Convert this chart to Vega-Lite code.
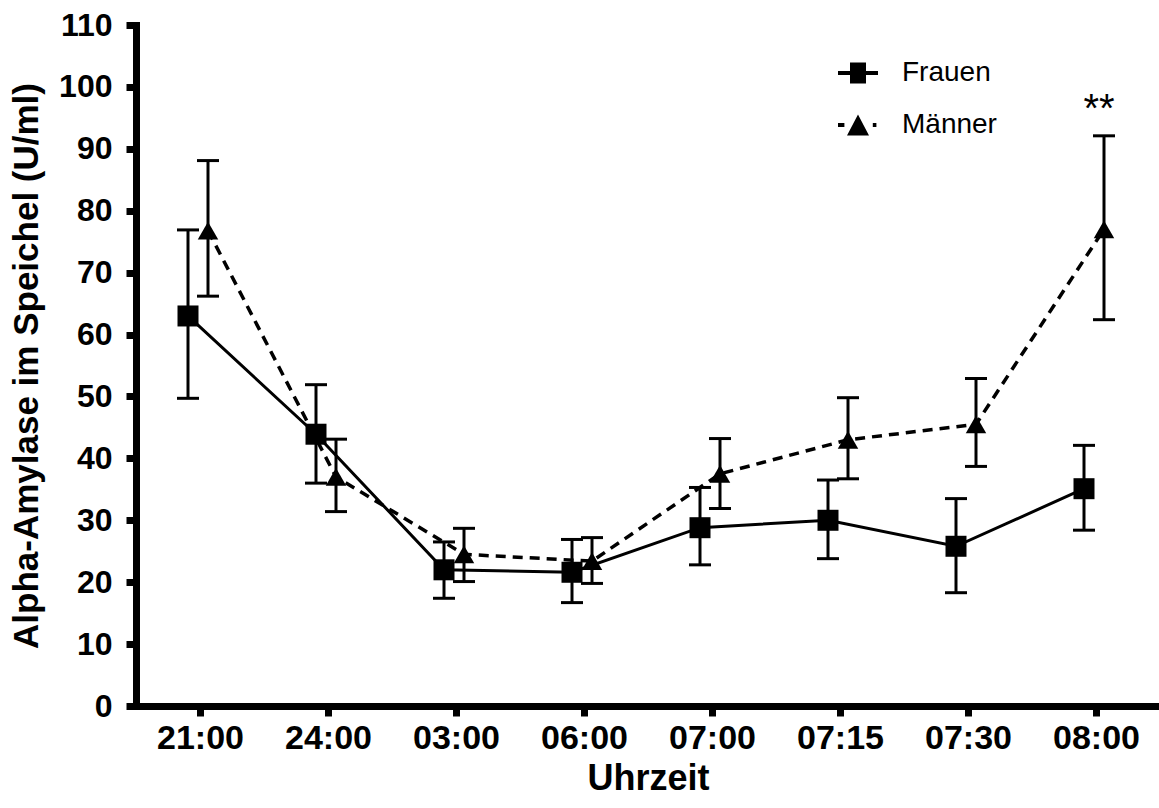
{
  "$schema": "https://vega.github.io/schema/vega-lite/v6.json",
  "description": "Alpha-Amylase im Speichel nach Uhrzeit, Frauen und Männer (Mittelwert mit Fehlerbalken)",
  "width": 1024,
  "height": 681,
  "autosize": {"type": "none"},
  "padding": {"left": 136, "top": 25, "right": 0, "bottom": 102},
  "background": "white",
  "config": {
    "view": {"stroke": null},
    "font": "Liberation Sans",
    "axis": {
      "domainColor": "black",
      "domainWidth": 7,
      "domainCap": "square",
      "tickColor": "black",
      "tickWidth": 7,
      "tickSize": 10,
      "labelColor": "black",
      "labelFont": "Liberation Sans",
      "labelFontWeight": "bold",
      "titleColor": "black",
      "titleFont": "Liberation Sans",
      "titleFontWeight": "bold",
      "grid": false
    },
    "axisY": {"tickCount": 11, "labelFontSize": 32, "labelPadding": 14, "titleFontSize": 35, "titlePadding": 14},
    "axisX": {"labelFontSize": 34, "labelPadding": 5, "titleFontSize": 36, "titlePadding": 6, "labelAngle": 0}
  },
  "data": {
    "values": [
      {"Zeit": "21:00", "Gruppe": "Frauen", "Mittel": 63.0, "Oben": 76.9, "Unten": 49.7},
      {"Zeit": "24:00", "Gruppe": "Frauen", "Mittel": 43.9, "Oben": 51.9, "Unten": 36.0},
      {"Zeit": "03:00", "Gruppe": "Frauen", "Mittel": 22.0, "Oben": 26.5, "Unten": 17.4},
      {"Zeit": "06:00", "Gruppe": "Frauen", "Mittel": 21.6, "Oben": 26.9, "Unten": 16.7},
      {"Zeit": "07:00", "Gruppe": "Frauen", "Mittel": 28.8, "Oben": 35.3, "Unten": 22.8},
      {"Zeit": "07:15", "Gruppe": "Frauen", "Mittel": 30.0, "Oben": 36.5, "Unten": 23.8},
      {"Zeit": "07:30", "Gruppe": "Frauen", "Mittel": 25.8, "Oben": 33.5, "Unten": 18.3},
      {"Zeit": "08:00", "Gruppe": "Frauen", "Mittel": 35.1, "Oben": 42.1, "Unten": 28.4},
      {"Zeit": "21:00", "Gruppe": "Männer", "Mittel": 76.8, "Oben": 88.1, "Unten": 66.2},
      {"Zeit": "24:00", "Gruppe": "Männer", "Mittel": 37.0, "Oben": 43.1, "Unten": 31.4},
      {"Zeit": "03:00", "Gruppe": "Männer", "Mittel": 24.5, "Oben": 28.7, "Unten": 20.1},
      {"Zeit": "06:00", "Gruppe": "Männer", "Mittel": 23.4, "Oben": 27.2, "Unten": 19.8},
      {"Zeit": "07:00", "Gruppe": "Männer", "Mittel": 37.5, "Oben": 43.2, "Unten": 31.9},
      {"Zeit": "07:15", "Gruppe": "Männer", "Mittel": 43.0, "Oben": 49.8, "Unten": 36.7},
      {"Zeit": "07:30", "Gruppe": "Männer", "Mittel": 45.5, "Oben": 52.9, "Unten": 38.7},
      {"Zeit": "08:00", "Gruppe": "Männer", "Mittel": 77.0, "Oben": 92.1, "Unten": 62.4, "Signifikanz": "**"}
    ]
  },
  "encoding": {
    "x": {
      "field": "Zeit",
      "type": "ordinal",
      "title": "Uhrzeit",
      "sort": ["21:00", "24:00", "03:00", "06:00", "07:00", "07:15", "07:30", "08:00"],
      "scale": {"type": "point", "padding": 0.5}
    }
  },
  "layer": [
    {
      "transform": [{"filter": "datum.Gruppe === 'Frauen'"}],
      "layer": [
        {
          "mark": {"type": "rule", "color": "black", "strokeWidth": 3, "xOffset": -12},
          "encoding": {
            "y": {"field": "Unten", "type": "quantitative", "title": "Alpha-Amylase im Speichel (U/ml)", "scale": {"domain": [0, 110], "nice": false}},
            "y2": {"field": "Oben"}
          }
        },
        {
          "mark": {"type": "tick", "color": "black", "opacity": 1, "size": 22, "thickness": 3, "xOffset": -12},
          "encoding": {"y": {"field": "Oben", "type": "quantitative", "title": "Alpha-Amylase im Speichel (U/ml)", "scale": {"domain": [0, 110], "nice": false}}}
        },
        {
          "mark": {"type": "tick", "color": "black", "opacity": 1, "size": 22, "thickness": 3, "xOffset": -12},
          "encoding": {"y": {"field": "Unten", "type": "quantitative", "title": "Alpha-Amylase im Speichel (U/ml)", "scale": {"domain": [0, 110], "nice": false}}}
        },
        {
          "mark": {"type": "line", "color": "black", "strokeWidth": 3, "xOffset": -12},
          "encoding": {"y": {"field": "Mittel", "type": "quantitative", "title": "Alpha-Amylase im Speichel (U/ml)", "scale": {"domain": [0, 110], "nice": false}}}
        },
        {
          "mark": {"type": "point", "shape": "square", "filled": true, "color": "black", "opacity": 1, "size": 441, "xOffset": -12},
          "encoding": {"y": {"field": "Mittel", "type": "quantitative", "title": "Alpha-Amylase im Speichel (U/ml)", "scale": {"domain": [0, 110], "nice": false}}}
        }
      ]
    },
    {
      "transform": [{"filter": "datum.Gruppe === 'Männer'"}],
      "layer": [
        {
          "mark": {"type": "rule", "color": "black", "strokeWidth": 3, "xOffset": 8},
          "encoding": {
            "y": {"field": "Unten", "type": "quantitative", "title": "Alpha-Amylase im Speichel (U/ml)", "scale": {"domain": [0, 110], "nice": false}},
            "y2": {"field": "Oben"}
          }
        },
        {
          "mark": {"type": "tick", "color": "black", "opacity": 1, "size": 22, "thickness": 3, "xOffset": 8},
          "encoding": {"y": {"field": "Oben", "type": "quantitative", "title": "Alpha-Amylase im Speichel (U/ml)", "scale": {"domain": [0, 110], "nice": false}}}
        },
        {
          "mark": {"type": "tick", "color": "black", "opacity": 1, "size": 22, "thickness": 3, "xOffset": 8},
          "encoding": {"y": {"field": "Unten", "type": "quantitative", "title": "Alpha-Amylase im Speichel (U/ml)", "scale": {"domain": [0, 110], "nice": false}}}
        },
        {
          "mark": {"type": "line", "color": "black", "strokeWidth": 3.5, "strokeDash": [10, 7], "xOffset": 8},
          "encoding": {"y": {"field": "Mittel", "type": "quantitative", "title": "Alpha-Amylase im Speichel (U/ml)", "scale": {"domain": [0, 110], "nice": false}}}
        },
        {
          "mark": {"type": "point", "shape": "triangle-up", "filled": true, "color": "black", "opacity": 1, "size": 420, "xOffset": 8},
          "encoding": {"y": {"field": "Mittel", "type": "quantitative", "title": "Alpha-Amylase im Speichel (U/ml)", "scale": {"domain": [0, 110], "nice": false}}}
        },
        {
          "transform": [{"filter": "datum.Signifikanz"}],
          "mark": {"type": "text", "color": "black", "fontSize": 40, "font": "Liberation Sans", "baseline": "alphabetic", "align": "center", "xOffset": 3, "dy": -14},
          "encoding": {
            "y": {"field": "Oben", "type": "quantitative", "title": "Alpha-Amylase im Speichel (U/ml)", "scale": {"domain": [0, 110], "nice": false}},
            "text": {"field": "Signifikanz"}
          }
        }
      ]
    },
    {
      "description": "Legendenträger: unsichtbare Punkte, deren Formskala Linienstück und Symbol der Legende als gefüllte Pfade zeichnet",
      "mark": {"type": "point", "filled": true, "color": "black", "opacity": 0, "size": 1600},
      "encoding": {
        "y": {"field": "Mittel", "type": "quantitative", "title": "Alpha-Amylase im Speichel (U/ml)", "scale": {"domain": [0, 110], "nice": false}},
        "shape": {
          "field": "Gruppe",
          "type": "nominal",
          "scale": {
            "domain": ["Frauen", "Männer"],
            "range": [
              "M-1,-0.1H1V0.1H-1ZM-0.4,-0.52H0.4V0.52H-0.4Z",
              "M-1,-0.1H-0.68V0.1H-1ZM-0.55,0.52L0,-0.52L0.55,0.52ZM0.74,-0.1H0.92V0.1H0.74Z"
            ]
          },
          "legend": {
            "title": null,
            "orient": "none",
            "legendX": 701,
            "legendY": 27,
            "padding": 0,
            "symbolSize": 1600,
            "symbolOpacity": 1,
            "rowPadding": 17,
            "labelFontSize": 28,
            "labelFont": "Liberation Sans",
            "labelFontWeight": "normal",
            "labelColor": "black",
            "labelOffset": 23
          }
        }
      }
    }
  ]
}
